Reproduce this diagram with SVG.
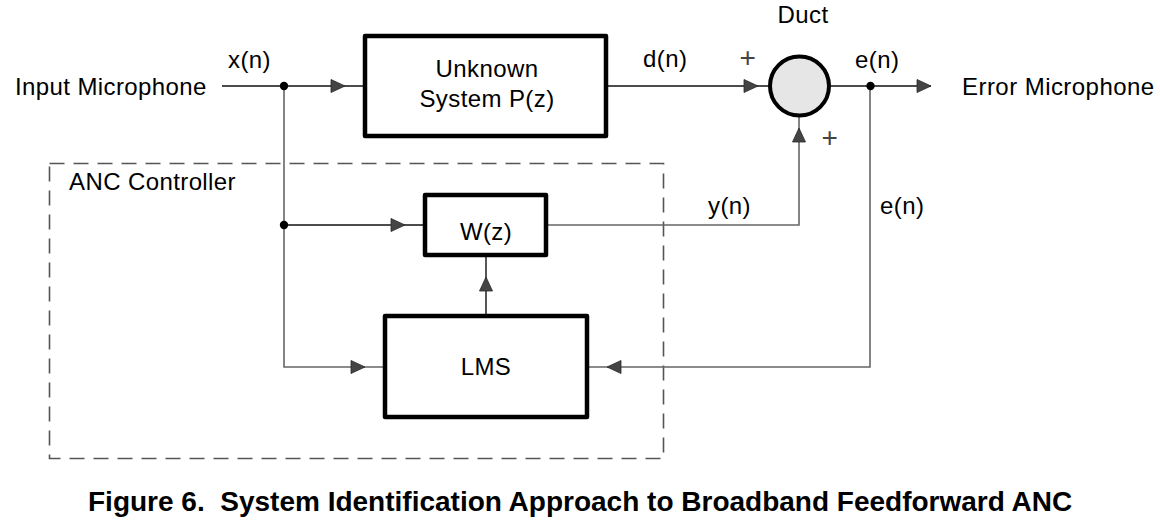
<svg xmlns="http://www.w3.org/2000/svg" xmlns:xlink="http://www.w3.org/1999/xlink" width="1160" height="525" viewBox="0 0 1160 525">
<style>
text{font-family:"Liberation Sans",Arial,sans-serif;font-size:24px;fill:#000;letter-spacing:0.4px}
.mid{text-anchor:middle}
.box{fill:#fff;stroke:#000;stroke-width:4.5;stroke-linejoin:round}
.w{fill:none;stroke:#111;stroke-width:1.4}
.g{fill:none;stroke:#666;stroke-width:1.6}
.dash{fill:none;stroke:#555;stroke-width:1.6;stroke-dasharray:15 9}
.ah{fill:#444;stroke:#2a2a2a;stroke-width:0.8}
.dot{fill:#000}
.plus{font-size:28px;font-weight:normal;fill:#444}
.cap{font-size:28px;font-weight:bold;letter-spacing:0;white-space:pre}
</style>
<defs>
<path id="ah" class="ah" d="M0,0 L-14,-6.5 L-14,6.5 Z"/>
</defs>
<g id="anc-controller">
<rect class="dash" x="49.5" y="163.5" width="614" height="295"/>
<text x="69" y="190">ANC Controller</text>
</g>
<g id="connectors">
<path class="w" d="M222,86 H363"/>
<path class="w" d="M608,86 H768"/>
<path class="w" d="M831,86 H931"/>
<path class="g" d="M284,86 V367 H383"/>
<path class="w" d="M284,225 H423"/>
<path class="g" d="M548,225 H799 V117"/>
<path class="w" d="M486,314 V257"/>
<path class="g" d="M589,367 H870 V86"/>
<circle class="dot" cx="284" cy="86" r="4.2"/>
<circle class="dot" cx="284" cy="225" r="4.2"/>
<circle class="dot" cx="870.5" cy="86" r="4.2"/>
<use xlink:href="#ah" href="#ah" transform="translate(345,86)"/>
<use xlink:href="#ah" href="#ah" transform="translate(758,86)"/>
<use xlink:href="#ah" href="#ah" transform="translate(931,86)"/>
<use xlink:href="#ah" href="#ah" transform="translate(799,128) rotate(-90)"/>
<use xlink:href="#ah" href="#ah" transform="translate(405,225)"/>
<use xlink:href="#ah" href="#ah" transform="translate(486,277) rotate(-90)"/>
<use xlink:href="#ah" href="#ah" transform="translate(365,367)"/>
<use xlink:href="#ah" href="#ah" transform="translate(607,367) rotate(180)"/>
<text x="228" y="68">x(n)</text>
<text x="643" y="67">d(n)</text>
<text x="855" y="68">e(n)</text>
<text x="708" y="214">y(n)</text>
<text x="880" y="214">e(n)</text>
<text class="plus mid" x="748" y="67">+</text>
<text class="plus mid" x="830" y="147">+</text>
</g>
<g id="input-microphone">
<text x="15" y="95">Input Microphone</text>
</g>
<g id="error-microphone">
<text x="962" y="95" style="letter-spacing:0.45px">Error Microphone</text>
</g>
<g id="unknown-system">
<rect class="box" x="365" y="36" width="241" height="100"/>
<text class="mid" x="487" y="77">Unknown</text>
<text class="mid" x="487" y="107">System P(z)</text>
</g>
<g id="duct">
<circle cx="799.5" cy="86" r="29.5" fill="#e6e6e6" stroke="#000" stroke-width="4"/>
<text class="mid" x="803" y="23">Duct</text>
</g>
<g id="wz">
<rect class="box" x="425" y="195" width="121" height="60"/>
<text class="mid" x="486" y="240">W(z)</text>
</g>
<g id="lms">
<rect class="box" x="385" y="316" width="202" height="101"/>
<text class="mid" x="486" y="375">LMS</text>
</g>
<g id="caption">
<text class="cap" x="88" y="511" xml:space="preserve">Figure 6.  System Identification Approach to Broadband Feedforward ANC</text>
</g>
</svg>
